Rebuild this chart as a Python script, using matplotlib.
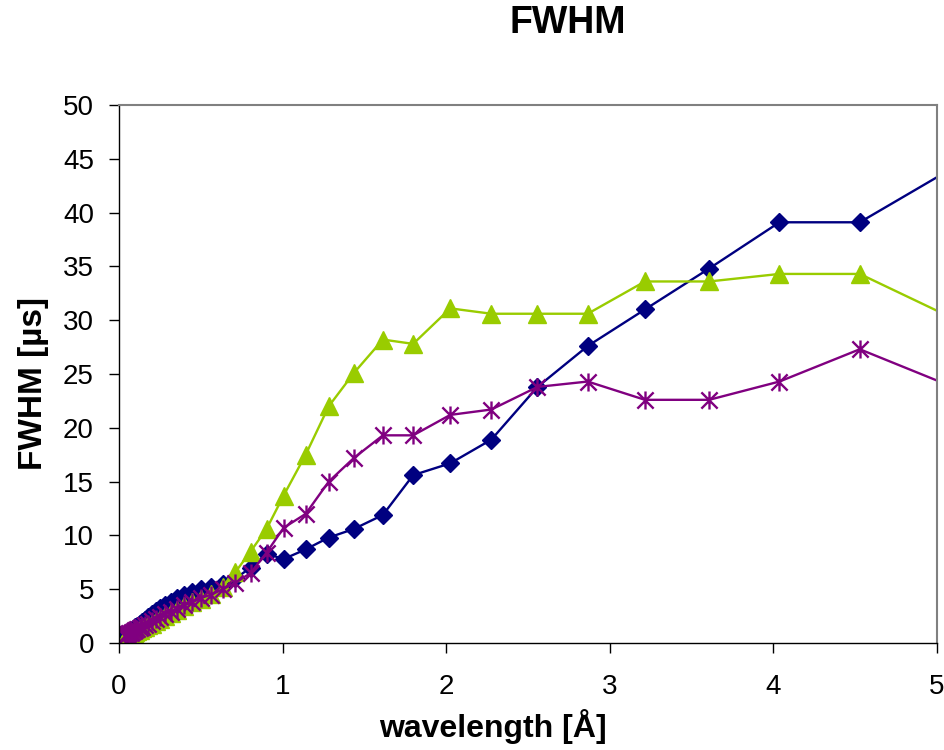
import matplotlib
matplotlib.use("Agg")
import matplotlib.pyplot as plt
from matplotlib.path import Path

plt.rcParams['font.family'] = ['Liberation Sans', 'DejaVu Sans']

# wavelength sampling points [Å]
wavelength = [0.035, 0.040, 0.045, 0.050, 0.056, 0.063, 0.071, 0.080, 0.089, 0.100,
              0.113, 0.126, 0.142, 0.159, 0.178, 0.200, 0.225, 0.252, 0.283, 0.318,
              0.357, 0.400, 0.449, 0.504, 0.565, 0.634, 0.712, 0.804, 0.902,
              1.006, 1.141, 1.282, 1.436, 1.613, 1.798, 2.025, 2.276, 2.558, 2.865,
              3.215, 3.607, 4.037, 4.528, 5.080]

# FWHM [µs] for the three configurations
fwhm_blue = [0.70, 0.75, 0.80, 0.85, 0.92, 1.00, 1.10, 1.20, 1.32, 1.45,
             1.60, 1.76, 1.95, 2.15, 2.40, 2.65, 2.95, 3.25, 3.55, 3.85,
             4.15, 4.45, 4.75, 5.00, 5.20, 5.50, 6.00, 7.00, 8.30,
             7.8, 8.7, 9.8, 10.6, 11.9, 15.6, 16.7, 18.9, 23.8, 27.6,
             31.0, 34.8, 39.1, 39.1, 44.0]

fwhm_green = [0.45, 0.50, 0.55, 0.60, 0.65, 0.70, 0.75, 0.82, 0.90, 1.00,
              1.10, 1.20, 1.35, 1.50, 1.65, 1.80, 2.00, 2.25, 2.50, 2.80,
              3.10, 3.40, 3.80, 4.10, 4.60, 5.20, 6.60, 8.50, 10.6,
              13.7, 17.5, 22.0, 25.1, 28.2, 27.8, 31.1, 30.6, 30.6, 30.6,
              33.6, 33.6, 34.3, 34.3, 30.3]

fwhm_purple = [0.65, 0.70, 0.75, 0.80, 0.85, 0.90, 0.95, 1.00, 1.10, 1.20,
               1.30, 1.40, 1.50, 1.65, 1.80, 2.00, 2.20, 2.40, 2.65, 2.90,
               3.20, 3.50, 3.80, 4.20, 4.50, 5.00, 5.60, 6.50, 8.40,
               10.7, 12.0, 15.0, 17.2, 19.3, 19.3, 21.2, 21.7, 23.8, 24.3,
               22.6, 22.6, 24.3, 27.3, 23.9]

x_ticks = [0, 1, 2, 3, 4, 5]
y_ticks = [0, 5, 10, 15, 20, 25, 30, 35, 40, 45, 50]

# asterisk marker: vertical bar plus an X
star = Path([(0, -1), (0, 1), (-0.9, -0.9), (0.9, 0.9), (-0.9, 0.9), (0.9, -0.9)],
            [Path.MOVETO, Path.LINETO] * 3)

W, H = 944, 750
fig = plt.figure(figsize=(W / 100, H / 100), dpi=100)
ax = fig.add_axes([119 / W, 1 - 643 / H, (937 - 119) / W, (643 - 105) / H])

ax.plot(wavelength, fwhm_blue, color='#000080', lw=1.7, marker='D', ms=9.5,
        mfc='#000080', mec='#000080', mew=1)
ax.plot(wavelength, fwhm_green, color='#99CC00', lw=1.7, marker='^', ms=12.5,
        mfc='#99CC00', mec='#99CC00', mew=1)
ax.plot(wavelength, fwhm_purple, color='#800080', lw=1.7, marker=star, ms=13,
        mfc='none', mec='#800080', mew=1.7)

ax.set_xlim(0, 5)
ax.set_ylim(0, 50)
ax.set_xticks(x_ticks)
ax.set_yticks(y_ticks)
ax.set_xticklabels([str(v) for v in x_ticks])
ax.set_yticklabels([str(v) for v in y_ticks])

ax.tick_params(axis='both', direction='out', length=7, width=1.0, colors='black',
               labelsize=20)
ax.tick_params(axis='x', pad=15)
ax.tick_params(axis='y', pad=11)

for side in ('left', 'bottom'):
    ax.spines[side].set_color('black')
    ax.spines[side].set_linewidth(1.0)
for side in ('top', 'right'):
    ax.spines[side].set_color('#808080')
    ax.spines[side].set_linewidth(1.5)

fig.text(568 / W, 1 - 33 / H, 'FWHM', ha='center', va='baseline',
         fontsize=27, fontweight='bold')
fig.text(493 / W, 1 - 737 / H, 'wavelength [Å]', ha='center', va='baseline',
         fontsize=23, fontweight='bold')
fig.text(42 / W, 1 - 383.5 / H, 'FWHM [µs]', ha='center', va='baseline',
         rotation=90, rotation_mode='anchor', fontsize=24, fontweight='bold')

fig.savefig('out.png', dpi=100)
